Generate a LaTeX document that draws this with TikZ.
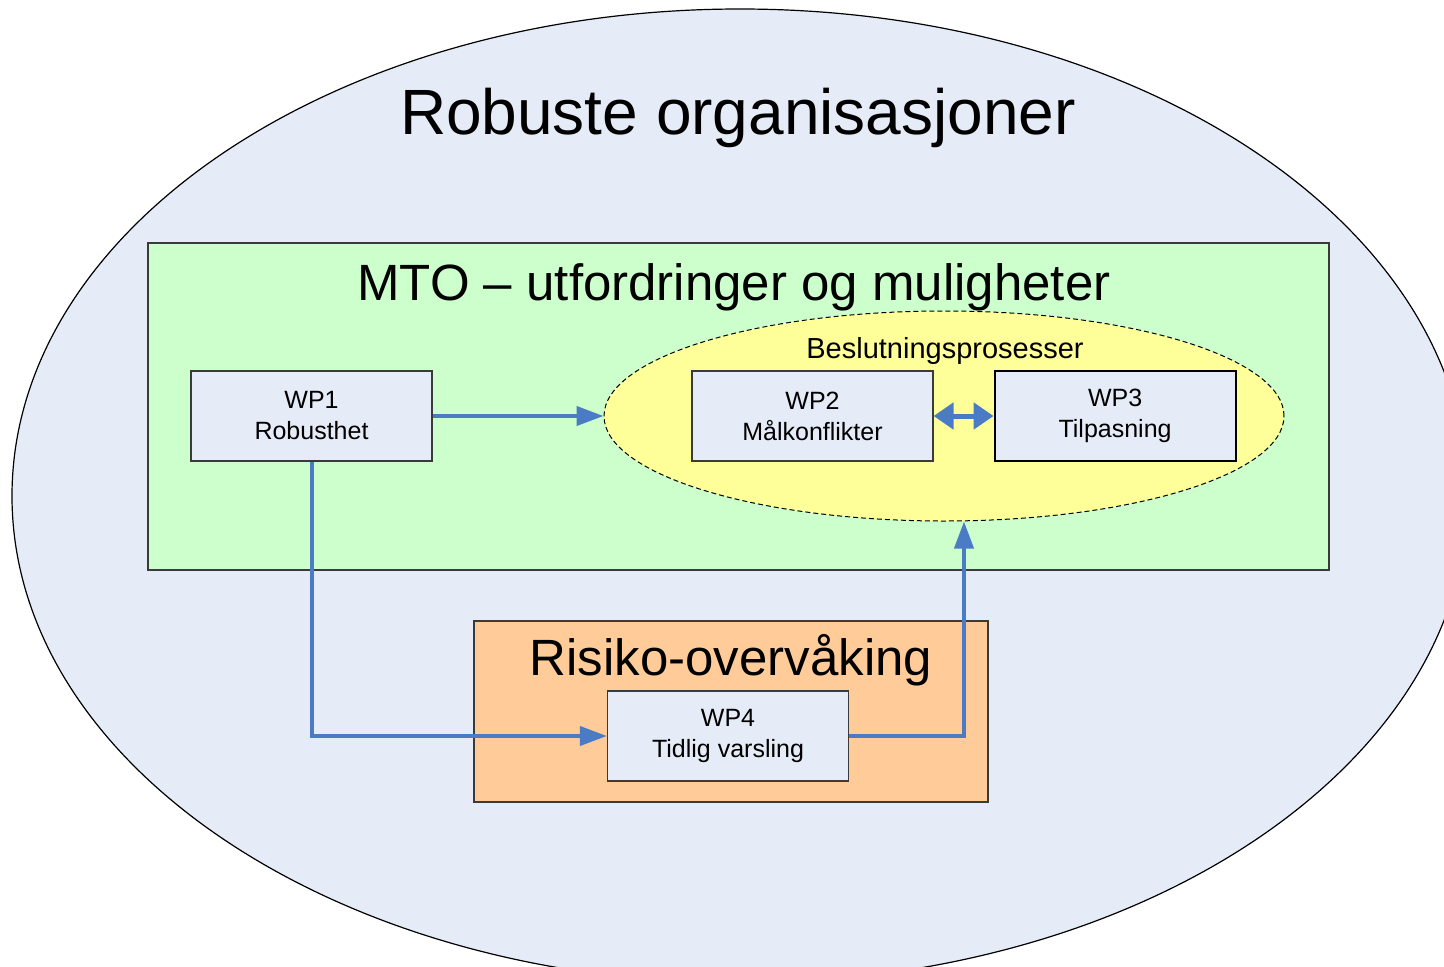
\documentclass[tikz,border=0pt]{standalone}
\usepackage{fontspec}
\setmainfont{Liberation Sans}
\usepackage{tikz}
\usetikzlibrary{arrows.meta,positioning,shapes.geometric}
\definecolor{orgfill}{HTML}{E6ECF7}
\definecolor{mtofill}{HTML}{CCFFCC}
\definecolor{besfill}{HTML}{FFFF99}
\definecolor{riskfill}{HTML}{FFCC99}
\definecolor{wpfill}{HTML}{E6ECF7}
\definecolor{flow}{HTML}{4A7BC4}
\definecolor{ink}{HTML}{3A3A3A}
\tikzset{
  outer/.style={ellipse,draw=black,line width=1.2pt,fill=orgfill,inner sep=0pt,
    minimum width=1456pt,minimum height=974pt},
  area/.style={rectangle,draw=ink,line width=1.2pt,inner sep=0pt},
  group/.style={ellipse,draw=black,dash pattern=on 5pt off 3pt,line width=1pt,fill=besfill,
    inner sep=0pt,minimum width=680pt,minimum height=210pt},
  wp/.style={rectangle,draw=ink,line width=1.2pt,fill=wpfill,align=center,inner sep=0pt,
    minimum width=241pt,minimum height=90pt,font=\fontsize{25}{31}\selectfont},
  huge/.style={anchor=base,font=\fontsize{64}{76}\selectfont},
  big/.style={anchor=base,font=\fontsize{51}{61}\selectfont},
  mid/.style={anchor=base,font=\fontsize{29}{34}\selectfont},
  link/.style={-{Triangle[length=27pt,width=19pt]},line width=4pt,draw=flow},
  both/.style={{Triangle[length=20pt,width=26pt]}-{Triangle[length=20pt,width=26pt]},
    line width=5pt,draw=flow}
}

\begin{document}
\begin{tikzpicture}[x=1pt,y=-1pt,node distance=60pt]
  \useasboundingbox (0,0) rectangle (1444,967);
  \node[outer] (org) at (740,496) {};
  \node[huge] (orgtitle) at (738,134) {Robuste organisasjoner};

  \node[area,fill=mtofill,minimum width=1181pt,minimum height=327pt] (mto) at (738.5,406.5) {};
  \node[big] (mtotitle) at (734,300) {MTO -- utfordringer og muligheter};

  \node[group] (beslut) at (944,416) {};
  \node[mid] (beslabel) at (945,358) {Beslutningsprosesser};

  \node[wp] (wp1) at (311.5,416) {WP1\\Robusthet};
  \node[wp] (wp2) at (812.5,416) {WP2\\Målkonflikter};
  \node[wp,draw=black,line width=2pt,right=of wp2] (wp3) {WP3\\Tilpasning};

  \node[area,fill=riskfill,minimum width=514pt,minimum height=181pt] (risk) at (731,711.5) {};
  \node[big] (risktitle) at (731,675) {Risiko-overvåking};
  \node[wp] (wp4) at (728,736) {WP4\\Tidlig varsling};

  \draw[link] (wp1) -- (beslut);
  \draw[both] (wp2) -- (wp3);
  \draw[link] (wp1.south) |- (wp4.west);
  \draw[link] (wp4.east) -| ([xshift=20pt]beslut.south);
\end{tikzpicture}
\end{document}
